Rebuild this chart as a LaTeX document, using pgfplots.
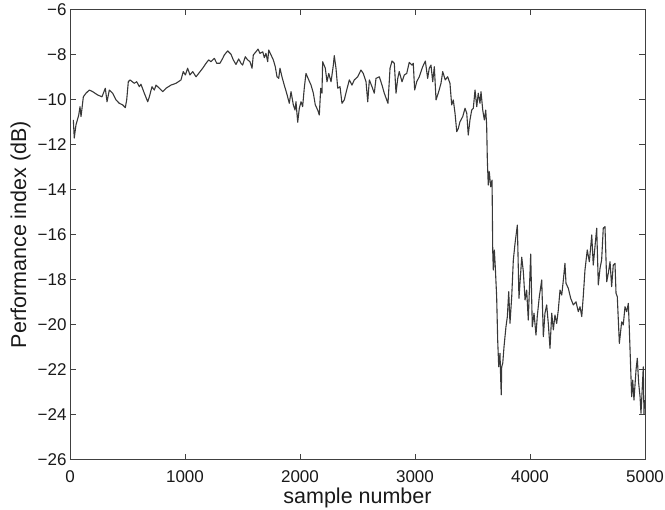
\documentclass[border=0pt]{standalone}
\usepackage{pgfplots}
\pgfplotsset{compat=1.18}
\usepackage{pgfplotstable}
\usepackage{fontspec}
\setmainfont{Liberation Sans}
\pgfplotstableread{
x y
29 -10.91
37 -11.71
52 -11.13
76 -10.69
87 -10.32
96 -10.76
116 -9.88
139 -9.72
168 -9.58
197 -9.65
241 -9.80
278 -9.88
307 -9.50
322 -10.10
342 -9.58
371 -9.72
400 -10.02
429 -10.17
458 -10.24
481 -10.36
493 -10.02
507 -9.21
522 -9.13
559 -9.28
580 -9.21
603 -9.43
617 -9.32
646 -9.72
676 -10.10
690 -9.88
713 -9.43
733 -9.58
748 -9.36
777 -9.50
806 -9.65
835 -9.50
878 -9.36
922 -9.28
965 -9.13
985 -8.76
1003 -8.91
1023 -8.61
1043 -8.91
1067 -8.76
1096 -8.99
1119 -8.84
1154 -8.61
1183 -8.39
1206 -8.24
1226 -8.32
1255 -8.17
1276 -8.39
1304 -8.39
1328 -8.17
1342 -8.02
1371 -7.84
1400 -7.99
1420 -8.24
1443 -8.44
1467 -8.20
1487 -8.39
1501 -8.47
1524 -8.10
1545 -8.24
1565 -8.32
1583 -8.61
1594 -8.02
1617 -7.88
1635 -7.76
1652 -7.95
1676 -7.88
1690 -8.14
1704 -7.95
1719 -8.32
1728 -7.80
1748 -8.02
1768 -8.24
1785 -8.54
1800 -8.99
1815 -9.06
1826 -8.61
1843 -8.99
1863 -9.36
1884 -9.72
1907 -10.17
1922 -9.65
1942 -10.24
1957 -10.47
1965 -10.10
1980 -11.01
1994 -10.39
2009 -10.10
2023 -10.32
2037 -9.50
2052 -8.84
2076 -9.13
2096 -9.36
2116 -9.72
2133 -10.24
2154 -10.47
2168 -10.69
2180 -9.50
2191 -9.72
2197 -8.32
2220 -8.61
2235 -9.21
2250 -8.84
2270 -9.21
2290 -8.47
2298 -8.05
2313 -8.61
2328 -9.50
2348 -9.43
2365 -10.17
2385 -10.02
2406 -9.58
2429 -9.13
2452 -9.36
2472 -9.13
2502 -8.99
2530 -8.69
2550 -8.84
2574 -9.21
2589 -10.10
2603 -9.13
2626 -9.43
2646 -9.72
2661 -9.06
2690 -8.99
2713 -9.36
2733 -9.72
2754 -10.02
2765 -10.17
2783 -8.61
2800 -8.29
2820 -8.39
2835 -9.72
2850 -9.06
2863 -8.76
2887 -9.21
2907 -8.91
2928 -8.84
2950 -8.35
2974 -8.47
2985 -8.39
2997 -9.58
3015 -9.21
3037 -8.99
3067 -8.54
3090 -8.29
3110 -9.06
3124 -8.61
3139 -8.47
3154 -9.21
3168 -8.54
3183 -10.02
3206 -9.65
3226 -9.28
3241 -8.76
3263 -9.13
3284 -8.99
3304 -9.28
3319 -10.24
3333 -10.02
3348 -10.61
3363 -11.43
3377 -11.28
3391 -10.99
3415 -10.76
3435 -10.39
3450 -10.61
3463 -11.58
3478 -10.91
3493 -10.47
3507 -10.39
3522 -9.58
3537 -10.32
3550 -9.72
3565 -10.17
3574 -9.65
3589 -10.47
3603 -10.91
3615 -10.47
3623 -11.13
3629 -12.69
3637 -13.80
3646 -13.21
3658 -13.88
3670 -13.58
3676 -16.76
3681 -17.58
3690 -16.69
3698 -17.43
3710 -18.76
3719 -20.69
3728 -21.88
3739 -21.28
3745 -22.39
3750 -23.13
3754 -21.88
3763 -21.72
3774 -20.99
3791 -20.10
3803 -19.65
3815 -18.54
3826 -19.95
3841 -18.76
3855 -17.13
3870 -16.39
3890 -15.58
3904 -18.84
3928 -17.01
3942 -17.65
3957 -18.91
3971 -18.47
3985 -19.80
4006 -16.87
4020 -20.10
4035 -19.50
4052 -20.47
4063 -19.65
4081 -18.76
4102 -18.02
4116 -20.54
4130 -19.50
4145 -19.13
4159 -19.95
4174 -21.06
4189 -19.50
4203 -20.24
4217 -19.58
4232 -19.95
4246 -19.36
4261 -18.47
4276 -18.69
4290 -18.02
4304 -17.28
4313 -18.17
4333 -18.39
4354 -18.84
4377 -19.13
4400 -18.99
4420 -19.43
4435 -19.21
4450 -19.65
4463 -18.76
4478 -17.58
4498 -16.69
4516 -17.21
4537 -16.02
4550 -17.36
4565 -16.54
4580 -15.72
4594 -18.24
4609 -17.50
4623 -17.13
4637 -15.72
4652 -15.65
4667 -18.10
4681 -17.72
4696 -17.21
4710 -18.32
4724 -17.36
4739 -17.28
4748 -18.61
4759 -18.76
4777 -20.84
4797 -19.88
4811 -20.02
4826 -19.21
4841 -19.43
4855 -19.06
4863 -20.10
4884 -23.21
4893 -22.47
4904 -23.36
4922 -22.02
4933 -21.50
4945 -22.61
4957 -23.21
4965 -23.95
4974 -23.06
4985 -21.88
4991 -23.98
4996 -23.36
}\perfdata
\begin{document}
\begin{tikzpicture}
\begin{axis}[
  scale only axis, width=575bp, height=450bp,
  xmin=0, xmax=5000, ymin=-26, ymax=-6,
  xtick={0,1000,2000,3000,4000,5000},
  xticklabels={0,1000,2000,3000,4000,5000},
  ytick={-26,-24,-22,-20,-18,-16,-14,-12,-10,-8,-6},
  yticklabels={−26,−24,−22,−20,−18,−16,−14,−12,−10,−8,−6},
  scaled ticks=false,
  tick align=inside, major tick length=6bp,
  axis line style={black!75, line width=0.8bp},
  tick style={black!75, line width=0.8bp},
  ticklabel style={font=\fontsize{17bp}{20bp}\selectfont, text=black!90},
  xticklabel style={yshift=-8bp},
  xlabel={sample number}, ylabel={Performance index (dB)},
  label style={font=\fontsize{21.5bp}{25bp}\selectfont, text=black!90},
  xlabel style={at={(axis description cs:0.5,-0.09667)}, anchor=base},
  ylabel style={at={(axis description cs:-0.0765,0.5)}, anchor=base},
]
\addplot[color=black!78, line width=1.1bp, line join=round, mark=none] table[x=x, y=y] {\perfdata};
\coordinate (LL) at (rel axis cs:0,0);
\coordinate (UR) at (rel axis cs:1,1);
\end{axis}
\pgfresetboundingbox
\path[use as bounding box] ([shift={(-70bp,-50.5bp)}]LL) rectangle ([shift={(20bp,9.5bp)}]UR);
\end{tikzpicture}
\end{document}
